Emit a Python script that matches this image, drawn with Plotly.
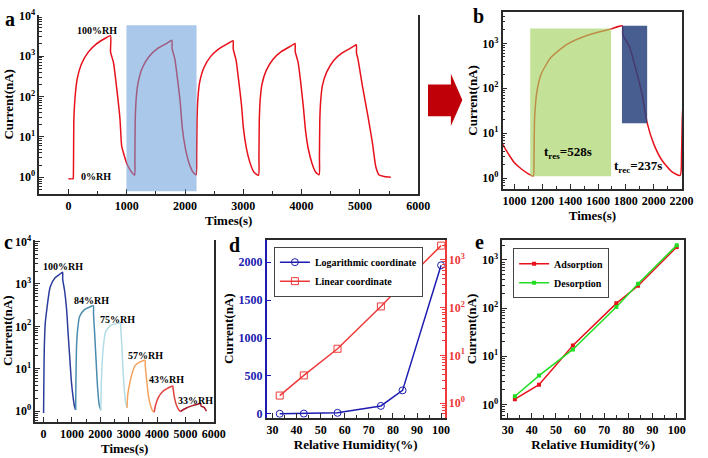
import plotly.graph_objects as go
import math

FONT = "Liberation Serif"

# ---------------- data ----------------
# Panel a/b : repeated 0%RH <-> 100%RH response (time s, current nA)
time_a = [0, 82, 84, 88, 94, 117, 152, 220, 340, 480, 640, 721,
          723, 772, 828, 884, 913, 940, 1000, 1050, 1100, 1135,
          1140, 1145, 1160, 1190, 1260, 1380, 1520, 1695, 1775,
          1778, 1825, 1871, 1918, 1953, 2000, 2059, 2129, 2190,
          2200, 2206, 2220, 2250, 2320, 2440, 2580, 2750, 2824,
          2827, 2875, 2920, 2967, 3003, 3050, 3110, 3180, 3260,
          3268, 3274, 3290, 3320, 3390, 3510, 3650, 3820, 3887,
          3890, 3940, 3985, 4030, 4068, 4115, 4175, 4240, 4300,
          4306, 4312, 4328, 4358, 4430, 4550, 4690, 4860, 4938,
          4941, 4966, 5050, 5134, 5218, 5274, 5330, 5420, 5530]
current_a = [0.92, 0.92, 0.95, 3, 30, 110, 280, 620, 1250, 2000, 2800, 3200,
             1250, 700, 160, 28, 6, 4.2, 2.2, 1.6, 1.25, 1.12,
             2.5, 22, 80, 200, 480, 960, 1500, 2100, 2450,
             1550, 850, 270, 70, 17, 5.8, 2.5, 1.4, 1.15,
             3.5, 25, 85, 220, 500, 980, 1500, 2100, 2400,
             1500, 800, 250, 65, 16, 5.5, 2.4, 1.35, 1.12,
             3, 25, 85, 200, 430, 830, 1280, 1780, 2050,
             1300, 700, 220, 55, 14, 5, 2.3, 1.35, 1.15,
             3, 25, 80, 190, 400, 780, 1180, 1630, 1900,
             1200, 850, 160, 35, 6.6, 1.8, 1.14, 1.04, 1.0]

# Panel c : different humidity levels
c_levels = ["100%RH", "84%RH", "75%RH", "57%RH", "43%RH", "33%RH"]
c_colors = ["#2c3d9c", "#4a8cb0", "#b3dde6", "#f4a35e", "#e0403c", "#a8182c"]
c_time = [
    [0, 10, 25, 60, 117, 232, 405, 550, 671, 673, 740, 810, 870, 924, 980, 1038, 1090, 1131],
    [1131, 1140, 1160, 1190, 1270, 1450, 1600, 1754, 1760, 1800, 1847, 1903, 1962, 2020],
    [2020, 2035, 2076, 2130, 2191, 2364, 2550, 2712, 2718, 2760, 2800, 2850, 2900, 2942],
    [2942, 2970, 3059, 3150, 3232, 3405, 3577, 3585, 3640, 3700, 3780, 3850, 3900],
    [3900, 3950, 4050, 4200, 4350, 4557, 4565, 4620, 4700, 4780, 4823],
    [4823, 5017, 5250, 5422, 5536, 5560, 5653, 5745],
]
c_current = [
    [0.9, 5, 30, 120, 260, 850, 1400, 1650, 1880, 1300, 700, 260, 60, 18, 5, 2.2, 1.3, 1.07],
    [1.07, 5, 30, 70, 170, 250, 280, 305, 200, 70, 18, 3.7, 1.4, 1.05],
    [1.05, 4, 18, 45, 75, 105, 115, 120, 100, 35, 10, 3, 1.5, 1.2],
    [1.2, 2.5, 5.3, 9, 12, 14.5, 15.8, 12, 5, 2.2, 1.3, 1.0, 0.95],
    [0.95, 1.4, 2.1, 2.9, 3.4, 3.9, 3.5, 2.0, 1.3, 1.05, 0.98],
    [0.98, 1.17, 1.35, 1.45, 1.53, 1.3, 1.25, 1.0],
]
c_label_t = [692, 1675, 2595, 3577, 4325, 5363]
c_label_i = [2570, 410, 148, 21, 5.5, 1.8]

# Panel d
rh = [33, 43, 57, 75, 84, 100]
current_d = [1.44, 3.8, 13.7, 105, 310, 1960]

# Panel e
adsorption = [1.28, 2.55, 16.6, 125, 290, 1850]
desorption = [1.47, 3.95, 13.8, 105, 320, 2000]

# highlighted windows (time s, current nA)
win_a = (995, 2198, 0.45, 5750)
win_res = (1113, 1694, 1.1, 2140)
win_rec = (1772, 1953, 16.6, 2450)

# ---------------- figure ----------------
W, H = 708, 458
def px(x): return x / W
def py(y): return 1 - y / H

fig = go.Figure()

RED = "#e8101a"
SM = 0.6
fig.add_trace(go.Scatter(x=time_a, y=current_a, mode="lines",
                         line=dict(color=RED, width=1.5, shape="spline", smoothing=SM),
                         xaxis="x", yaxis="y", showlegend=False))
fig.add_trace(go.Scatter(x=time_a, y=current_a, mode="lines",
                         line=dict(color=RED, width=1.5, shape="spline", smoothing=SM),
                         xaxis="x2", yaxis="y2", showlegend=False))
for t, c, col in zip(c_time, c_current, c_colors):
    fig.add_trace(go.Scatter(x=t, y=c, mode="lines",
                             line=dict(color=col, width=1.5, shape="spline", smoothing=SM),
                             xaxis="x3", yaxis="y3", showlegend=False))

BLUE = "#1c1cb0"
DRED = "#ee3a3a"
fig.add_trace(go.Scatter(x=rh, y=current_d, mode="lines+markers", name="Logarithmic coordinate",
                         line=dict(color=BLUE, width=1.5),
                         marker=dict(symbol="circle-open", size=7, color=BLUE, line=dict(width=1)),
                         xaxis="x4", yaxis="y4", legend="legend"))
fig.add_trace(go.Scatter(x=rh, y=current_d, mode="lines+markers", name="Linear coordinate",
                         line=dict(color=DRED, width=1.5),
                         marker=dict(symbol="square-open", size=7, color=DRED, line=dict(width=1)),
                         xaxis="x4", yaxis="y5", legend="legend"))

fig.add_trace(go.Scatter(x=rh, y=adsorption, mode="lines+markers", name="Adsorption",
                         line=dict(color="#e8101a", width=1.5),
                         marker=dict(symbol="square", size=4, color="#e8101a"),
                         xaxis="x5", yaxis="y6", legend="legend2"))
fig.add_trace(go.Scatter(x=rh, y=desorption, mode="lines+markers", name="Desorption",
                         line=dict(color="#22dd22", width=1.5),
                         marker=dict(symbol="square", size=4, color="#22dd22"),
                         xaxis="x5", yaxis="y6", legend="legend2"))

AX = "#2a2a2a"
tickfont = dict(family=FONT, size=12, color="black", weight="bold")
titlefont = dict(family=FONT, size=13, color="black", weight="bold")

def log_ticks(lo, hi):
    vals = [10 ** p for p in range(lo, hi + 1)]
    text = [f"10<sup>{p}</sup>" for p in range(lo, hi + 1)]
    minor = [m * 10 ** p for p in range(lo - 1, hi + 1) for m in range(2, 10)]
    return vals, text, minor

def xlin(domain, rng, dtick, minor_dtick, anchor, title, mirror=False, color=AX, tick0=0):
    d = dict(domain=domain, range=rng, anchor=anchor, showline=True, linecolor=color, linewidth=1.5,
             mirror=mirror, ticks="inside", ticklen=5, tickcolor=color, tickwidth=1, dtick=dtick, tick0=tick0,
             showgrid=False, zeroline=False, tickfont=tickfont,
             title=dict(text=title, font=titlefont, standoff=2))
    if minor_dtick:
        d["minor"] = dict(dtick=minor_dtick, ticks="inside", ticklen=3, tickcolor=color, showgrid=False)
    return d

def ylog(domain, rng, lo, hi, anchor, title, mirror=False, color=AX, fontcolor="black", side="left", overlaying=None):
    vals, text, minor = log_ticks(lo, hi)
    tf = dict(tickfont)
    tf["color"] = fontcolor
    d = dict(type="log", range=rng, anchor=anchor, showline=True, linecolor=color, linewidth=1.5,
             mirror=mirror, ticks="inside", ticklen=5, tickcolor=color, tickwidth=1,
             tickmode="array", tickvals=vals, ticktext=text, showgrid=False, zeroline=False,
             tickfont=tf, side=side,
             minor=dict(tickmode="array", tickvals=minor, ticks="inside", ticklen=3, tickcolor=color, showgrid=False),
             title=dict(text=title, font=titlefont, standoff=2))
    if overlaying:
        d["overlaying"] = overlaying
    else:
        d["domain"] = domain
    return d

layout = dict(
    width=W, height=H, margin=dict(l=0, r=0, t=0, b=0),
    paper_bgcolor="white", plot_bgcolor="rgba(0,0,0,0)",
    font=dict(family=FONT),
    xaxis=xlin([px(39), px(425)], [-500, 6000], 1000, 500, "y", "Times(s)"),
    yaxis=ylog([py(191), py(8)], [-0.41, 4.02], 0, 4, "x", "Current(nA)", mirror=True),
    xaxis2=xlin([px(511), px(694)], [915, 2205], 200, 100, "y2", "Times(s)", mirror=True),
    yaxis2=ylog([py(186), py(5)], [-0.24, 3.70], 0, 3, "x2", "Current(nA)", mirror=True),
    xaxis3=xlin([px(35), px(217)], [-290, 6010], 1000, 500, "y3", "Times(s)"),
    yaxis3=ylog([py(424), py(238)], [-0.25, 4.04], 0, 4, "x3", "Current(nA)", mirror=True),
    xaxis4=xlin([px(270.7), px(452)], [27.6, 101.5], 10, 5, "y4", "Relative Humidity(%)", mirror=True, color=AX),
    yaxis4=dict(domain=[py(420), py(237.7)], range=[-52, 2300], anchor="x4", showline=True, linecolor=BLUE,
                linewidth=1.5, ticks="inside", ticklen=5, tickcolor=BLUE, dtick=500, showgrid=False,
                zeroline=False, tickfont=dict(family=FONT, size=12, color=BLUE, weight="bold"),
                title=dict(text="Current(nA)", font=titlefont, standoff=2)),
    yaxis5=ylog(None, [-0.307, 3.42], 0, 3, "x4", "", color=DRED, fontcolor=DRED, side="right", overlaying="y4"),
    xaxis5=xlin([px(510.7), px(696)], [27.8, 103.1], 10, 5, "y6", "Relative Humidity(%)", mirror=True),
    yaxis6=ylog([py(420), py(238.3)], [-0.28, 3.41], 0, 3, "x5", "Current(nA)", mirror=True),
    legend=dict(x=px(278), y=py(245), xanchor="left", yanchor="top", bgcolor="white",
                bordercolor="#444", borderwidth=1, font=dict(family=FONT, size=10, color="black", weight="bold"),
                tracegroupgap=0, itemwidth=30),
    legend2=dict(x=px(521.7), y=py(246.7), xanchor="left", yanchor="top", bgcolor="white",
                 bordercolor="#444", borderwidth=1, font=dict(family=FONT, size=10, color="black", weight="bold"),
                 tracegroupgap=0, itemwidth=30),
)
fig.update_layout(**layout)

# shapes
shapes = []
shapes.append(dict(type="rect", xref="x", yref="y", x0=win_a[0], x1=win_a[1], y0=win_a[2], y1=win_a[3],
                   fillcolor="rgba(100,155,215,0.55)", line=dict(width=0), layer="above"))
shapes.append(dict(type="rect", xref="x2", yref="y2", x0=win_res[0], x1=win_res[1], y0=win_res[2], y1=win_res[3],
                   fillcolor="rgba(165,210,95,0.65)", line=dict(width=0), layer="above"))
shapes.append(dict(type="rect", xref="x2", yref="y2", x0=win_rec[0], x1=win_rec[1], y0=win_rec[2], y1=win_rec[3],
                   fillcolor="rgba(40,65,125,0.85)", line=dict(width=0), layer="above"))
arrow = [(435, 79.3), (458.3, 79.3), (458.3, 68.3), (470, 95), (458.3, 121.7), (458.3, 111.7), (435, 111.7)]
path = "M " + " L ".join(f"{px(a):.4f},{py(b):.4f}" for a, b in arrow) + " Z"
shapes.append(dict(type="path", xref="paper", yref="paper", path=path, fillcolor="#c00008", line=dict(width=0)))
fig.update_layout(shapes=shapes)

ann = []
lab = dict(family=FONT, size=10, color="black", weight="bold")
ann.append(dict(xref="x", yref="y", x=492, y=3.64, text="100%RH", showarrow=False, font=lab))
ann.append(dict(xref="x", yref="y", x=465, y=0.02, text="0%RH", showarrow=False, font=lab))
big = dict(family=FONT, size=13, color="black", weight="bold")
ann.append(dict(xref="x2", yref="y2", x=1384, y=0.565, text="t<sub>res</sub>=528s", showarrow=False, font=big))
ann.append(dict(xref="x2", yref="y2", x=1886, y=0.25, text="t<sub>rec</sub>=237s", showarrow=False, font=big))
for t, c, s in zip(c_label_t, c_label_i, c_levels):
    ann.append(dict(xref="x3", yref="y3", x=t, y=math.log10(c), text=s, showarrow=False, font=lab))
pl = dict(family=FONT, size=20, color="black", weight="bold")
for txt, x, y in [("a", 9, 12), ("b", 486, 9), ("c", 8, 240), ("d", 238, 243), ("e", 487, 240)]:
    ann.append(dict(xref="paper", yref="paper", x=px(x), y=py(y), text=txt, showarrow=False, font=pl,
                    xanchor="center", yanchor="middle"))
fig.update_layout(annotations=ann)

fig.write_html("out.html")
